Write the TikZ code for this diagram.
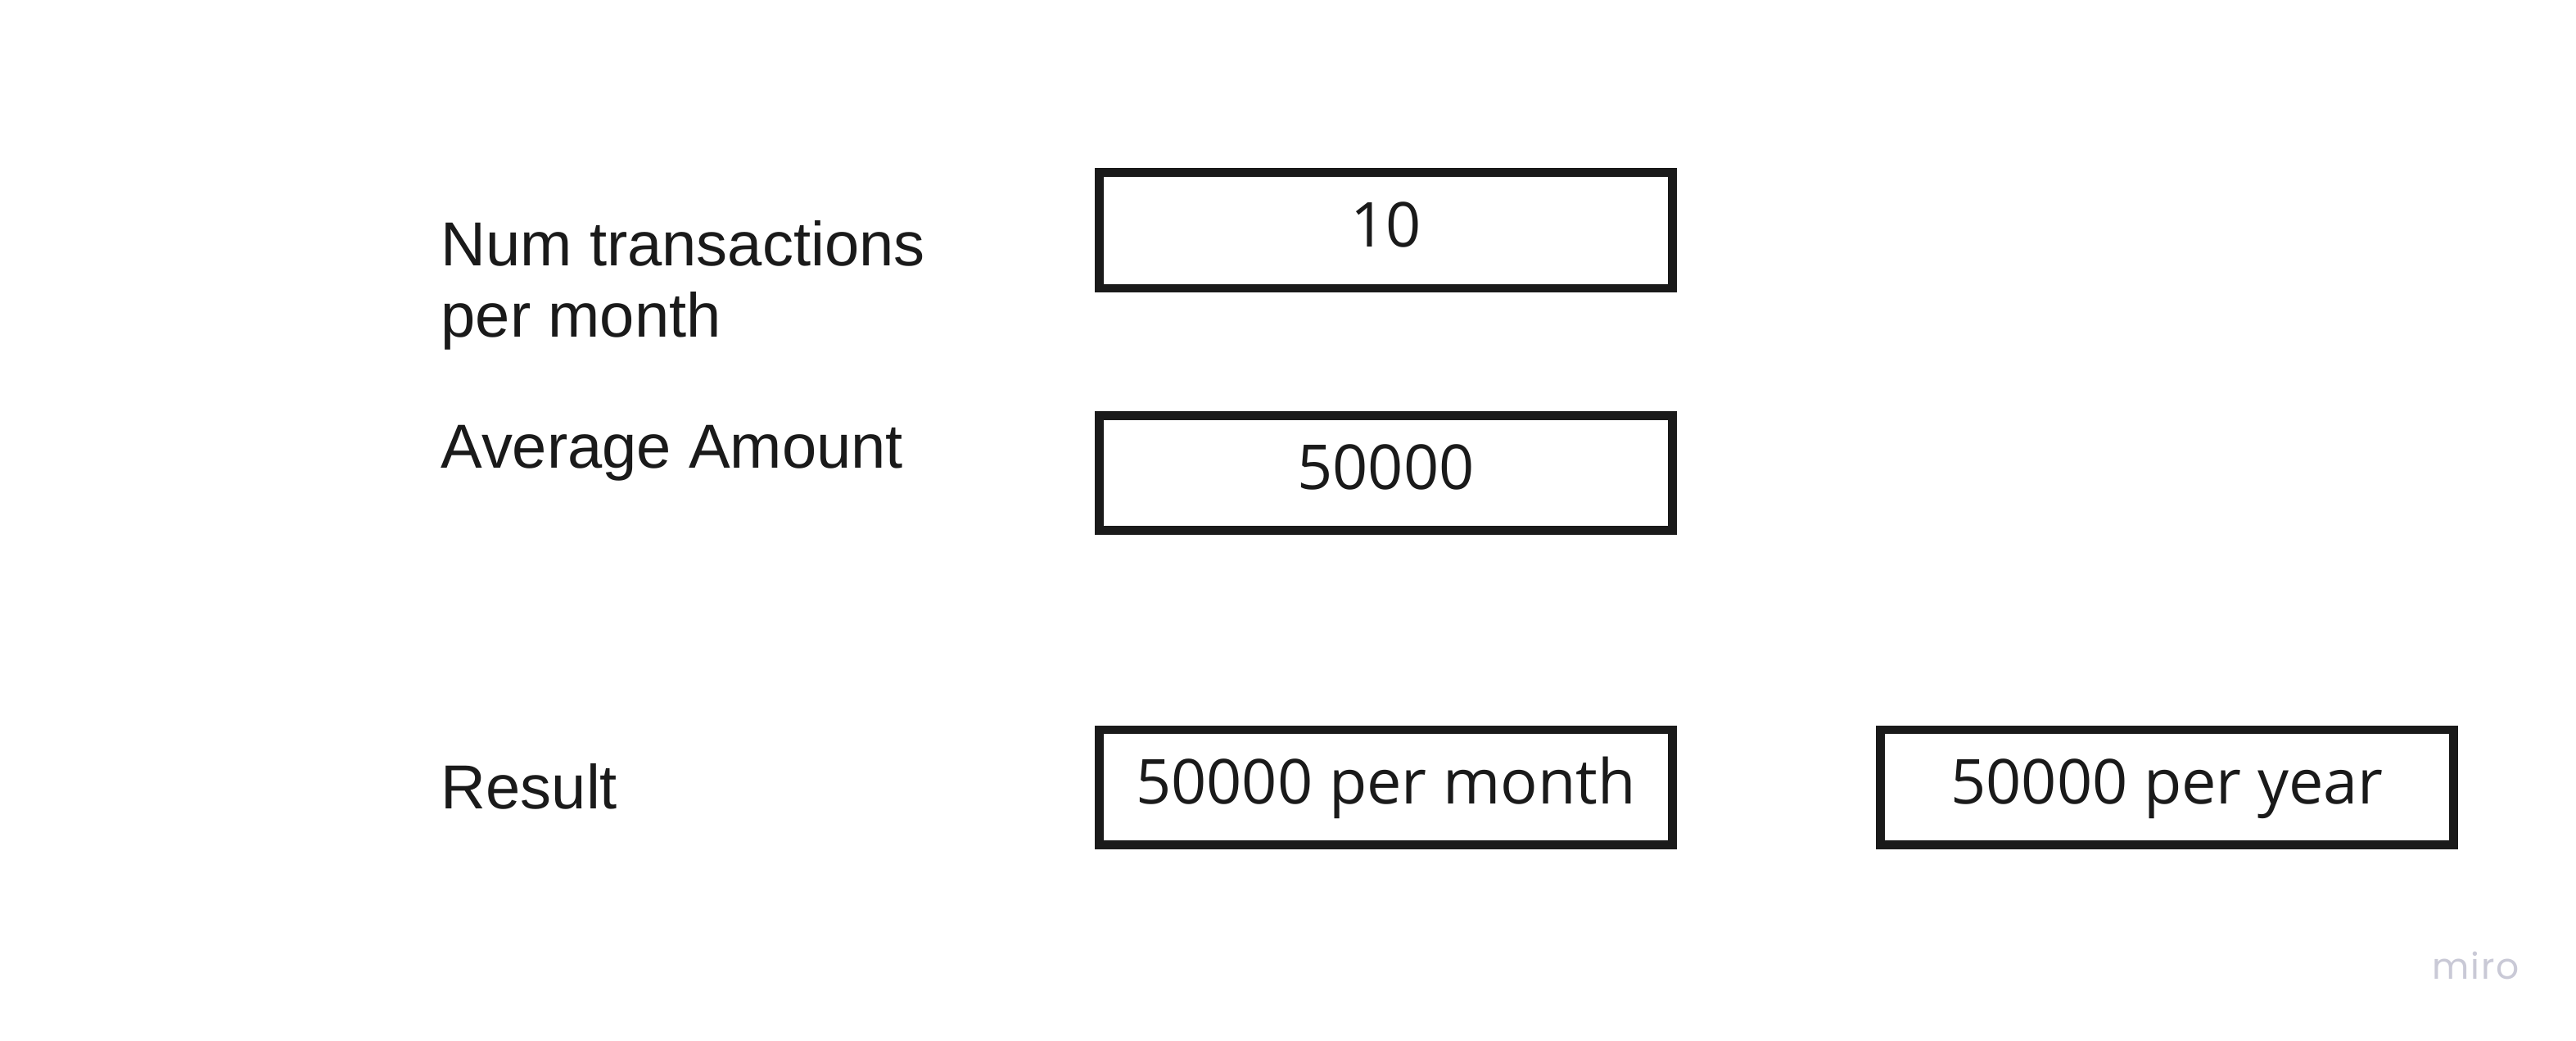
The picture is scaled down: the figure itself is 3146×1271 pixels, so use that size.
\documentclass[tikz,border=0pt]{standalone}
\usepackage{fontspec}
\setmainfont{Liberation Sans}
\newfontfamily\boxfont{Open Sans}
\newfontfamily\markfont[LetterSpace=4]{Poppins}
\definecolor{ink}{HTML}{1A1A1A}
\definecolor{markgray}{HTML}{C9C9D6}
\begin{document}
\begin{tikzpicture}[x=0.01cm,y=-0.01cm,
  field/.style={draw=ink,line width=3.1pt,fill=white},
  fieldtext/.style={anchor=base,inner sep=0pt,text=ink,font=\boxfont\fontsize{21.5pt}{24pt}\selectfont},
  label/.style={anchor=base west,inner sep=0pt,text=ink,align=left,font=\fontsize{21.6pt}{24.8pt}\selectfont}]
  \useasboundingbox[fill=white] (0,0) rectangle (3146,1271);

  % input and result fields
  \draw[field] (1342.5,210.5) rectangle (2042.5,352);
  \draw[field] (1342.5,507.5) rectangle (2042.5,647.5);
  \draw[field] (1342.5,891) rectangle (2042.5,1031.5);
  \draw[field] (2296.5,891) rectangle (2996.5,1031.5);

  \node[fieldtext] (txn) at (1692.5,302) {10};
  \node[fieldtext] (amount) at (1692.5,597.5) {50000};
  \node[fieldtext] (monthly) at (1692.5,981.5) {50000 per month};
  \node[fieldtext] (yearly) at (2646.5,981.5) {50000 per year};

  % row captions
  \node[label] (lbltxn) at (538,325) {Num transactions};
  \node[label] (lbltxn2) at (538,412) {per month};
  \node[label] (lblamount) at (538,572) {Average Amount};
  \node[label] (lblresult) at (538,988) {Result};

  % corner mark
  \node[anchor=base west,inner sep=0pt,text=markgray,font=\markfont\fontsize{12.5pt}{14pt}\selectfont] (mark) at (2970,1195) {miro};
\end{tikzpicture}
\end{document}
